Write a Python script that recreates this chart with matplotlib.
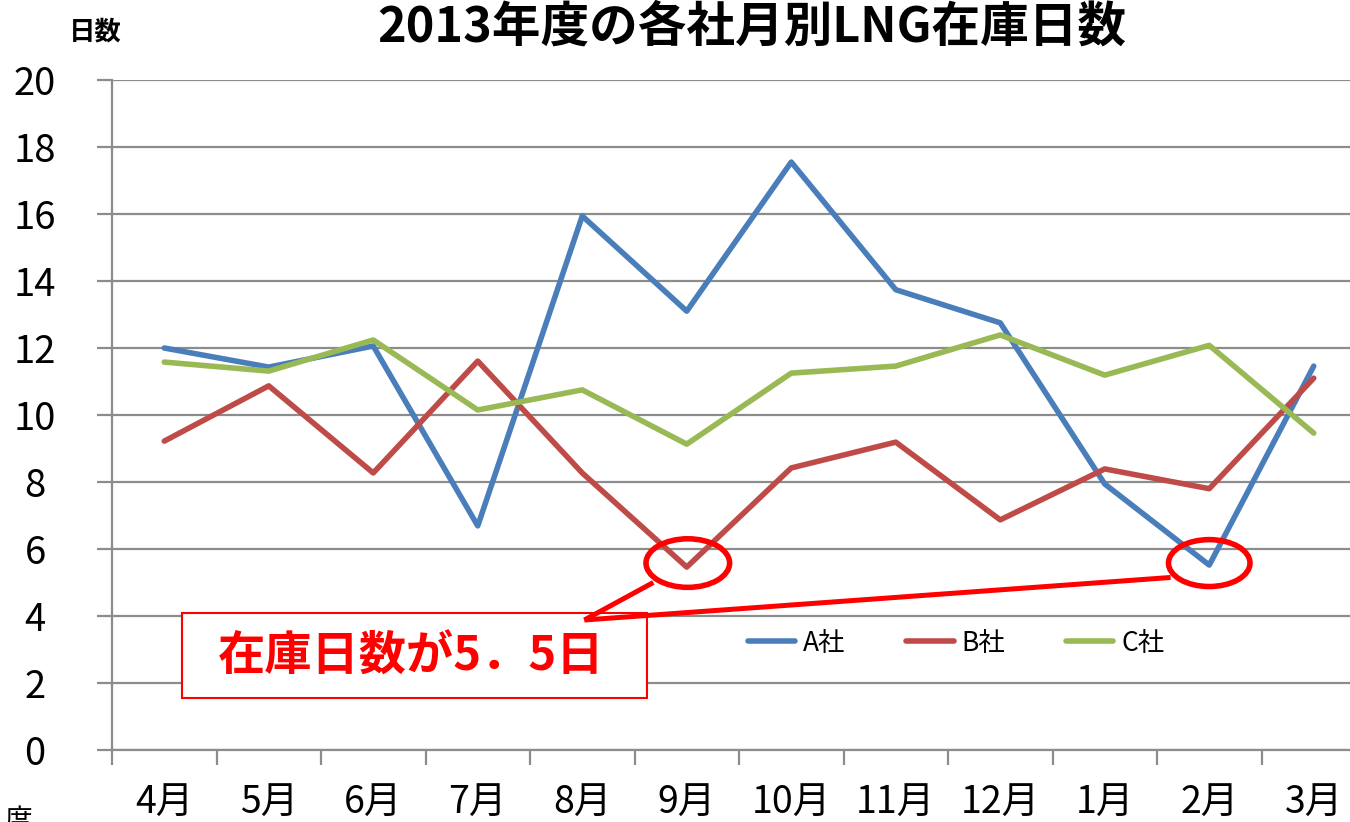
import matplotlib
matplotlib.use("Agg")
import matplotlib.pyplot as plt
from matplotlib.patches import Ellipse, Rectangle
from matplotlib.transforms import ScaledTranslation
import numpy as np

plt.rcParams['font.family'] = ['Noto Sans CJK JP', 'DejaVu Sans']

months = ['4月', '5月', '6月', '7月', '8月', '9月', '10月', '11月', '12月', '1月', '2月', '3月']
company_a = [12.0, 11.43, 12.06, 6.69, 15.94, 13.1, 17.55, 13.74, 12.75, 7.94, 5.52, 11.46]
company_b = [9.22, 10.87, 8.27, 11.61, 8.27, 5.46, 8.42, 9.19, 6.87, 8.39, 7.8, 11.1]
company_c = [11.58, 11.31, 12.24, 10.15, 10.75, 9.13, 11.25, 11.46, 12.39, 11.19, 12.08, 9.46]
series_names = ['A社', 'B社', 'C社']
colors = ['#4A7EBB', '#BE4B48', '#98B954']

title = '2013年度の各社月別LNG在庫日数'
ylabel = '日数'
callout = '在庫日数が5．5日'

fig = plt.figure(figsize=(13.5, 8.22), dpi=100)
ax = fig.add_axes([112/1350, 1-750/822, 1254/1350, 670/822])

x = np.arange(len(months))
for vals, name, c in zip([company_a, company_b, company_c], series_names, colors):
    ax.plot(x, vals, color=c, lw=4, label=name, solid_capstyle='round',
            solid_joinstyle='round', zorder=3)

ax.set_xlim(-0.5, 11.5)
ax.set_ylim(0, 20)
ax.set_yticks(np.arange(0, 21, 2))
ax.set_xticks(x)
ax.set_xticklabels(months)
ax.set_xticks(np.arange(-0.5, 12, 1), minor=True)

grey = '#8c8c8c'
ax.grid(axis='y', color=grey, lw=1.6, zorder=0)
for s in ['top', 'right']:
    ax.spines[s].set_visible(False)
for s in ['left', 'bottom']:
    ax.spines[s].set_color(grey)
    ax.spines[s].set_linewidth(1.6)

ax.tick_params(axis='y', length=11, width=1.6, color=grey, labelsize=27.5, pad=30)
ax.tick_params(axis='x', which='major', length=0, labelsize=27, pad=24)
ax.tick_params(axis='x', which='minor', length=11, width=1.6, color=grey)
for lab in ax.get_yticklabels():
    lab.set_horizontalalignment('center')
    lab.set_transform(lab.get_transform() + ScaledTranslation(-0.20, 0, fig.dpi_scale_trans))

fig.text(752/1350, 1-27/822, title, ha='center', va='center', fontsize=35, fontweight='bold')
fig.text(95/1350, 1-32/822, ylabel, ha='center', va='center', fontsize=19, fontweight='bold')
fig.text(0.003, 1-806/822, '度', ha='left', va='top', fontsize=20)

leg = ax.legend(loc='center', bbox_to_anchor=(956/1350, 1-643/822), bbox_transform=fig.transFigure,
                ncol=3, frameon=False, fontsize=19, handlelength=1.8, handletextpad=0.3,
                columnspacing=2.3)

# callout annotation
red = '#FF0000'
ax.add_patch(Rectangle((0.17, 1.55), 4.45, 2.54, facecolor='white', edgecolor=red, lw=1.5, zorder=5))
ax.text(2.36, 2.78, callout, color=red, fontsize=34, fontweight='bold', ha='center', va='center', zorder=6)
ax.add_patch(Ellipse((5.01, 5.58), 0.8, 1.45, fill=False, edgecolor=red, lw=4, zorder=6))
ax.add_patch(Ellipse((10.0, 5.58), 0.78, 1.4, fill=False, edgecolor=red, lw=4, zorder=6))
ax.plot([4.02, 4.68], [3.88, 5.0], color=red, lw=3.6, zorder=6, solid_capstyle='butt')
ax.plot([4.02, 9.63], [3.88, 5.15], color=red, lw=3.6, zorder=6, solid_capstyle='butt')

fig.savefig('out.png', dpi=100)
